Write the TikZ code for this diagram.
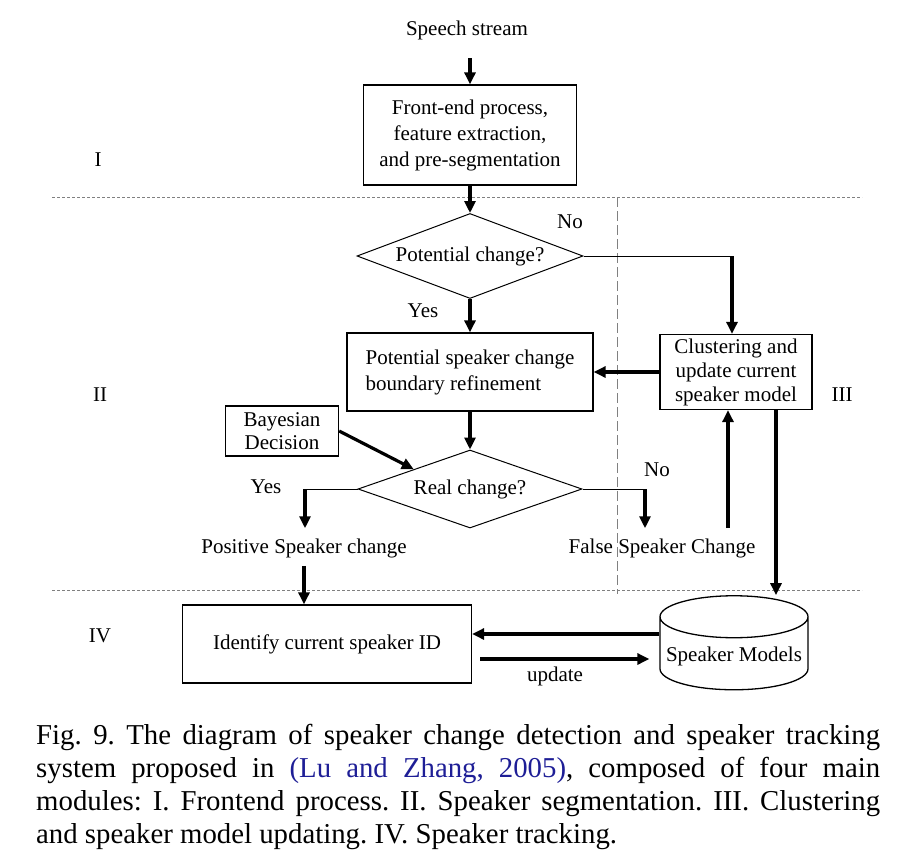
\documentclass[tikz,border=0pt]{standalone}
\usepackage{fontspec}
\setmainfont{Liberation Serif}
\usetikzlibrary{shapes.geometric, arrows.meta}
\definecolor{citeblue}{RGB}{30,30,150}
\tikzstyle{process} = [
    rectangle,
    draw=black,
    line width=1.3pt,
    align=center,
    inner sep=2pt,
    font=\fontsize{21}{26}\selectfont
]
\tikzstyle{decision} = [
    diamond,
    draw=black,
    line width=1pt,
    inner sep=0pt,
    font=\fontsize{21}{26}\selectfont
]
\tikzstyle{database} = [
    cylinder,
    shape border rotate=90,
    aspect=0.3,
    draw=black,
    line width=1.3pt,
    inner sep=2pt,
    font=\fontsize{21}{26}\selectfont
]
\tikzstyle{tag} = [inner sep=2pt, font=\fontsize{21}{26}\selectfont]
\tikzstyle{arrow} = [line width=3.2pt,-{Triangle[length=12pt,width=11pt]}]
\tikzstyle{link} = [line width=1pt]
\tikzstyle{divider} = [gray, line width=1pt, dash pattern=on 3pt off 2pt]

\begin{document}
\begin{tikzpicture}[x=1pt, y=-1pt]
\useasboundingbox (0,0) rectangle (906,863);

% module I
\node (speech) [tag] at (467,30) {Speech stream};
\coordinate (streamend) at (470,58);
\node (front) [process, minimum width=213pt, minimum height=100pt] at (470,135)
{Front-end process,\\feature extraction,\\and pre-segmentation};
\node (modI) [tag] at (98,160) {I};

% module II
\node (potchange) [decision, aspect=2.66, minimum width=226pt, minimum height=85pt] at (470,256)
{Potential change?};
\node (no1) [tag] at (570,222) {No};
\node (yes1) [tag] at (423,311) {Yes};
\node (refine) [process, align=left, minimum width=246pt, minimum height=78pt] at (470,372)
{Potential speaker change\\boundary refinement};
\node (modII) [tag] at (100,395) {II};
\node (bayes) [process, minimum width=113pt, minimum height=50pt, font=\fontsize{21}{23}\selectfont] at (282,431)
{Bayesian\\Decision};
\node (realchange) [decision, aspect=2.87, minimum width=224pt, minimum height=78pt] at (470,489)
{Real change?};
\node (yes2) [tag] at (266,487) {Yes};
\node (no2) [tag] at (657,470) {No};
\coordinate (yesturn) at (305,489);
\coordinate (noturn2) at (645,489);
\node (positive) [tag] at (304,548) {Positive Speaker change};
\node (falsechg) [tag] at (662,548) {False Speaker Change};

% module III
\coordinate (noturn) at (732,256);
\node (cluster) [process, minimum width=152pt, minimum height=75pt, font=\fontsize{21}{24}\selectfont] at (736,372)
{Clustering and\\update current\\speaker model};
\node (modIII) [tag] at (842,395) {III};
\coordinate (fsup) at (728,528);

% module IV
\node (modIV) [tag] at (100,636) {IV};
\node (identify) [process, minimum width=289pt, minimum height=78pt] at (327,644)
{Identify current speaker ID};
\node (models) [database, minimum width=148pt, minimum height=94pt] at (734,656)
{Speaker Models};
\node (update) [tag] at (555,676) {update};
\coordinate (idup) at ([yshift=10pt]identify.east);
\coordinate (iddown) at ([shift={(8pt,-15pt)}]identify.east);

% dividers
\draw [divider] (52,197) -- (862,197);
\draw [divider] (52,590) -- (862,590);
\draw [gray, line width=1pt, dash pattern=on 10pt off 4pt] (617,197) -- (617,594);

% connectors
\draw [arrow] (streamend) -- (front.north);
\draw [arrow] (front.south) -- (potchange.north);
\draw [link] (potchange.east) -- (noturn);
\draw [arrow] (noturn) -- (noturn |- cluster.north);
\draw [arrow] (potchange.south) -- (refine.north);
\draw [arrow] (cluster.west) -- (refine.east);
\draw [arrow] (refine.south) -- (realchange.north);
\draw [arrow] (bayes.east) -- (realchange.north west);
\draw [link] (realchange.west) -- (yesturn);
\draw [arrow, shorten >=8pt] (yesturn) -- (yesturn |- positive.north);
\draw [link] (realchange.east) -- (noturn2);
\draw [arrow, shorten >=8pt] (noturn2) -- (noturn2 |- falsechg.north);
\draw [arrow] (fsup) -- (fsup |- cluster.south);
\draw [arrow, shorten <=6pt] (positive.south) -- (positive.south |- identify.north);
\draw [arrow] ([xshift=40pt]cluster.south) -- ([xshift=40pt]cluster.south |- models.north);
\draw [arrow] (idup -| models.west) -- (idup);
\draw [arrow, shorten >=10pt] (iddown) -- (iddown -| models.west);

% caption
\node (caption) [anchor=north west, text width=844pt, inner sep=0pt, align=justify,
    font=\fontsize{28.8}{33}\selectfont] at (36,724)
{\frenchspacing Fig. 9. The diagram of speaker change detection and speaker tracking\linebreak
system proposed in \textcolor{citeblue}{(Lu and Zhang, 2005)}, composed of four main\linebreak
modules: I. Frontend process. II. Speaker segmentation. III. Clustering\linebreak
and speaker model updating. IV. Speaker tracking.};

\end{tikzpicture}
\end{document}
